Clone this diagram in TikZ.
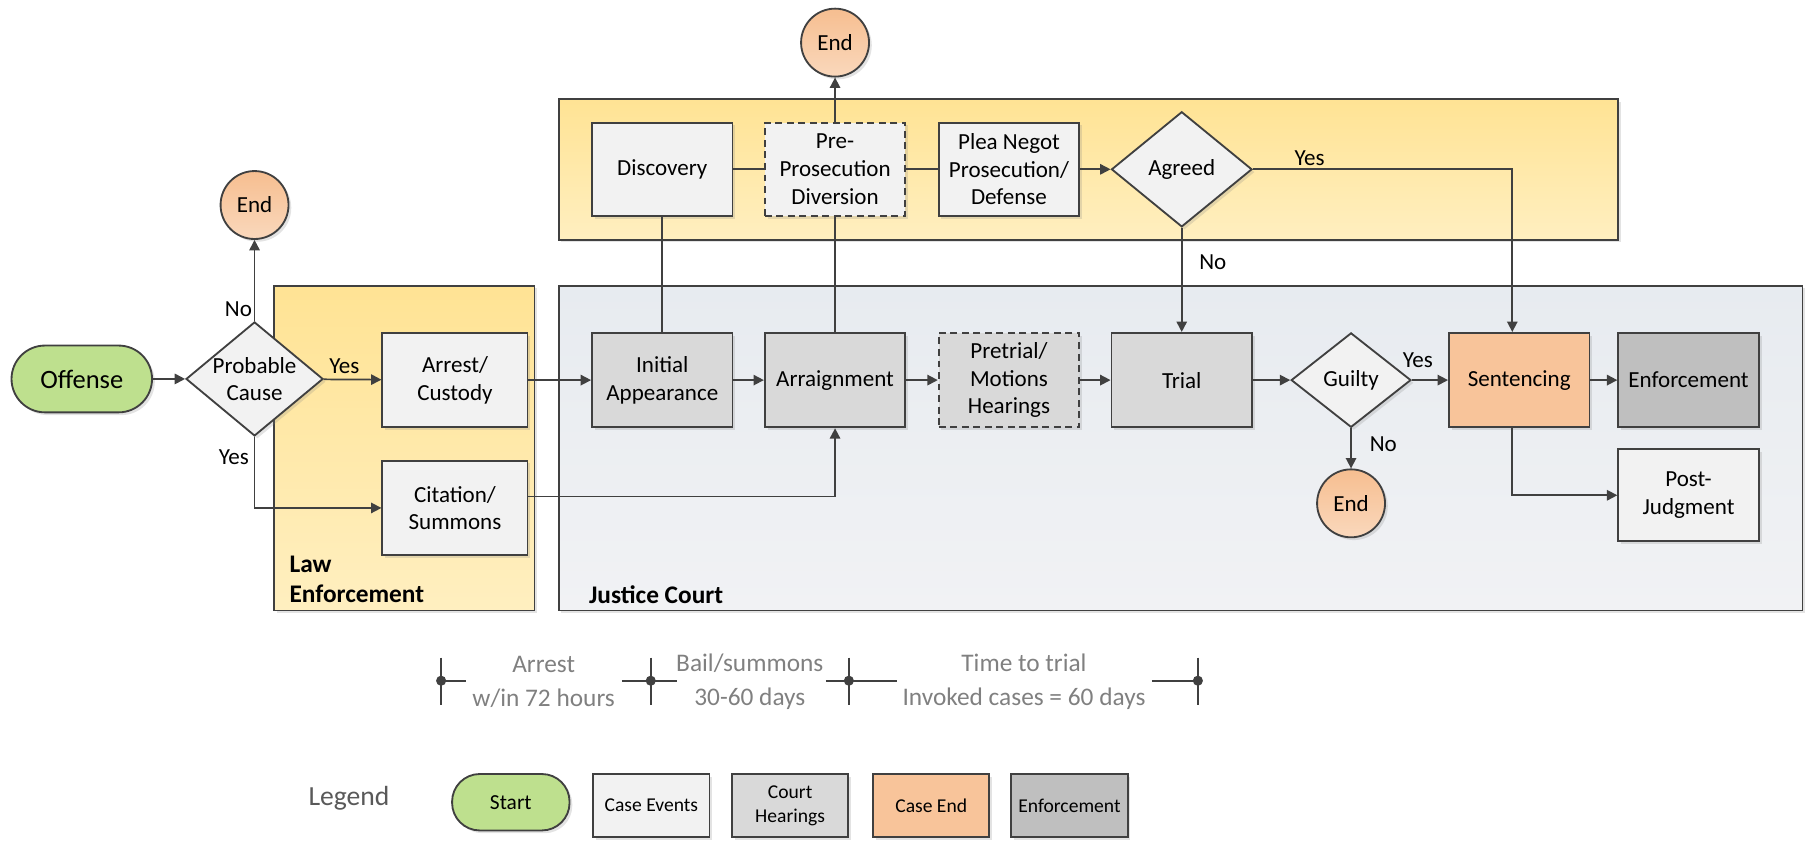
\documentclass[tikz,border=0pt]{standalone}
\usepackage{fontspec}
\setmainfont{Carlito}
\usetikzlibrary{arrows.meta,calc,shapes.geometric,shadows}

\definecolor{linegray}{RGB}{64,64,64}
\definecolor{evtfill}{RGB}{242,242,242}
\definecolor{hearfill}{RGB}{217,217,217}
\definecolor{endfill}{RGB}{248,196,154}
\definecolor{enffill}{RGB}{191,191,191}
\definecolor{startfill}{RGB}{190,224,142}
\definecolor{yeltop}{RGB}{255,227,148}
\definecolor{yelbot}{RGB}{255,239,192}
\definecolor{courttop}{RGB}{231,235,240}
\definecolor{courtbot}{RGB}{241,242,244}
\definecolor{endtop}{RGB}{246,190,144}
\definecolor{endbot}{RGB}{250,216,188}
\definecolor{notegray}{RGB}{128,128,128}
\definecolor{legendgray}{RGB}{89,89,89}

\begin{document}
\begin{tikzpicture}[x=0.5pt,y=-0.5pt,
  every node/.style={font=\fontsize{10}{12}\selectfont},
  shadowed/.style={drop shadow={opacity=0.22,shadow xshift=1.2pt,shadow yshift=-1.2pt}},
  casebox/.style={draw=linegray,line width=0.8pt,minimum width=61pt,minimum height=41pt,inner sep=1pt,align=center,shadowed},
  eventbox/.style={casebox,fill=evtfill},
  hearbox/.style={casebox,fill=hearfill},
  sentbox/.style={casebox,fill=endfill},
  enfbox/.style={casebox,fill=enffill},
  dashedbox/.style={dash pattern=on 3pt off 2pt},
  decision/.style={diamond,draw=linegray,line width=0.8pt,fill=evtfill,inner sep=0pt,shadowed},
  startnode/.style={rectangle,draw=linegray,line width=0.8pt,fill=startfill,align=center,shadowed},
  endnode/.style={circle,draw=linegray,line width=0.8pt,top color=endtop,bottom color=endbot,minimum size=29.5pt,inner sep=0pt,shadowed},
  lane/.style={draw=linegray,line width=0.8pt,shadowed},
  lanetitle/.style={font=\fontsize{11}{13}\selectfont\bfseries,align=left,inner sep=0pt},
  conn/.style={draw=linegray,line width=0.75pt},
  flow/.style={conn,-{Triangle[length=4.5pt,width=4.5pt]}},
  lbl/.style={inner sep=1pt},
  note/.style={text=notegray,font=\fontsize{11}{14.5}\selectfont,align=center},
  tick/.style={draw=linegray,line width=0.8pt},
  legendbox/.style={minimum width=50.5pt,minimum height=27.5pt,font=\fontsize{8.5}{10.5}\selectfont}
]
\useasboundingbox (0,0) rectangle (1568,735);

\draw[lane,top color=yeltop,bottom color=yelbot] (485,86) rectangle (1405,208);
\draw[lane,top color=yeltop,bottom color=yelbot] (238,248) rectangle (464,530);
\draw[lane,top color=courttop,bottom color=courtbot] (485,248) rectangle (1565,530);
\node[lanetitle,anchor=west] (lawlbl) at (251,503) {Law\\Enforcement};
\node[lanetitle,anchor=west] (courtlbl) at (511,516) {Justice Court};

\node[startnode,minimum width=61pt,minimum height=29pt,rounded corners=14.5pt,font=\fontsize{11.5}{13}\selectfont] (offense) at (71,329) {Offense};
\node[decision,minimum width=59.5pt,minimum height=49.5pt,label={[align=center]center:Probable\\Cause}] (cause) at (221,329) {};
\node[endnode] (end1) at (221,178) {End};
\node[eventbox,minimum width=63pt] (arrest) at (395,330) {Arrest/\\Custody};
\node[eventbox,minimum width=63pt] (citation) at (395,441) {Citation/\\Summons};

\node[eventbox,minimum height=40.5pt] (discovery) at (575,147) {Discovery};
\node[eventbox,dashedbox,minimum height=40.5pt] (diversion) at (725,147) {Pre-\\Prosecution\\Diversion};
\node[eventbox,minimum height=40.5pt] (plea) at (876,147) {Plea Negot\\Prosecution/\\Defense};
\node[decision,minimum width=61pt,minimum height=50pt,label=center:Agreed] (agreed) at (1026,147) {};
\node[endnode] (end2) at (725,37) {End};

\node[hearbox] (initial) at (575,330) {Initial\\Appearance};
\node[hearbox] (arraign) at (725,330) {Arraignment};
\node[hearbox,dashedbox] (pretrial) at (876,330) {Pretrial/\\Motions\\Hearings};
\node[hearbox] (trial) at (1026,330) {Trial};
\node[decision,minimum width=52pt,minimum height=41pt,label=center:Guilty] (guilty) at (1173,330) {};
\node[endnode] (end3) at (1173,437) {End};
\node[sentbox] (sentencing) at (1319,330) {Sentencing};
\node[enfbox] (enforce) at (1466,330) {Enforcement};
\node[eventbox,minimum height=40pt] (postjudg) at (1466,430) {Post-\\Judgment};

\draw[flow] (offense) -- (cause);
\draw[flow] (cause.north) -- (end1);
\draw[flow] (cause) -- (arrest);
\draw[flow] (cause.south) |- (citation);
\draw[flow] (arrest) -- (initial);
\draw[flow] ($(citation.east)+(0,-10)$) -| (arraign.south);
\draw[flow] (initial) -- (arraign);
\draw[flow] (arraign) -- (pretrial);
\draw[flow] (pretrial) -- (trial);
\draw[flow] (trial) -- (guilty);
\draw[flow] (guilty) -- (sentencing);
\draw[flow] (guilty) -- (end3);
\draw[flow] (sentencing) -- (enforce);
\draw[flow] ($(sentencing.south)+(-6,0)$) |- (postjudg);
\draw[conn] (discovery) -- (initial);
\draw[conn] (diversion) -- (arraign);
\draw[flow] (diversion) -- (end2);
\draw[conn] (discovery) -- (diversion);
\draw[conn] (diversion) -- (plea);
\draw[flow] (plea) -- (agreed);
\draw[flow] (agreed) -- (trial);
\draw[flow] (agreed) -| ($(sentencing.north)+(-6,0)$);

\node[lbl] (no1) at (207,268) {No};
\node[lbl] (yes1) at (299,318) {Yes};
\node[lbl] (yes2) at (203,397) {Yes};
\node[lbl] (yes3) at (1137,137) {Yes};
\node[lbl] (no2) at (1053,228) {No};
\node[lbl] (yes4) at (1231,313) {Yes};
\node[lbl] (no3) at (1201,386) {No};

\coordinate (t1) at (383,591);
\coordinate (t2) at (565,591);
\coordinate (t3) at (737,591);
\coordinate (t4) at (1040,591);
\foreach \tk in {t1,t2,t3,t4}{
  \draw[tick] ($(\tk)+(0,-20)$) -- ($(\tk)+(0,21)$);
  \fill[linegray] (\tk) circle (2.2pt);
}
\draw[tick] (t1) -- ++(22,0);
\draw[tick] ($(t2)+(-25,0)$) -- ++(48,0);
\draw[tick] ($(t3)+(-20,0)$) -- ++(62,0);
\draw[tick] ($(t4)+(-40,0)$) -- (t4);
\node[note] (span1) at (472,592) {Arrest\\w/in 72 hours};
\node[note] (span2) at (651,592) {Bail/summons\\30-60 days};
\node[note] (span3) at (889,592) {Time to trial\\Invoked cases = 60 days};

\node[font=\fontsize{12}{14}\selectfont,text=legendgray] (legend) at (303,693) {Legend};
\node[startnode,minimum width=51pt,minimum height=24.5pt,rounded corners=12pt,font=\fontsize{9.3}{11}\selectfont] (lstart) at (443.5,696.5) {Start};
\node[eventbox,legendbox] (levent) at (565.5,699.5) {Case Events};
\node[hearbox,legendbox] (lhear) at (686,699.5) {Court\\Hearings};
\node[sentbox,legendbox] (lend) at (808.5,699.5) {Case End};
\node[enfbox,legendbox] (lenf) at (928.5,699.5) {Enforcement};
\end{tikzpicture}
\end{document}
